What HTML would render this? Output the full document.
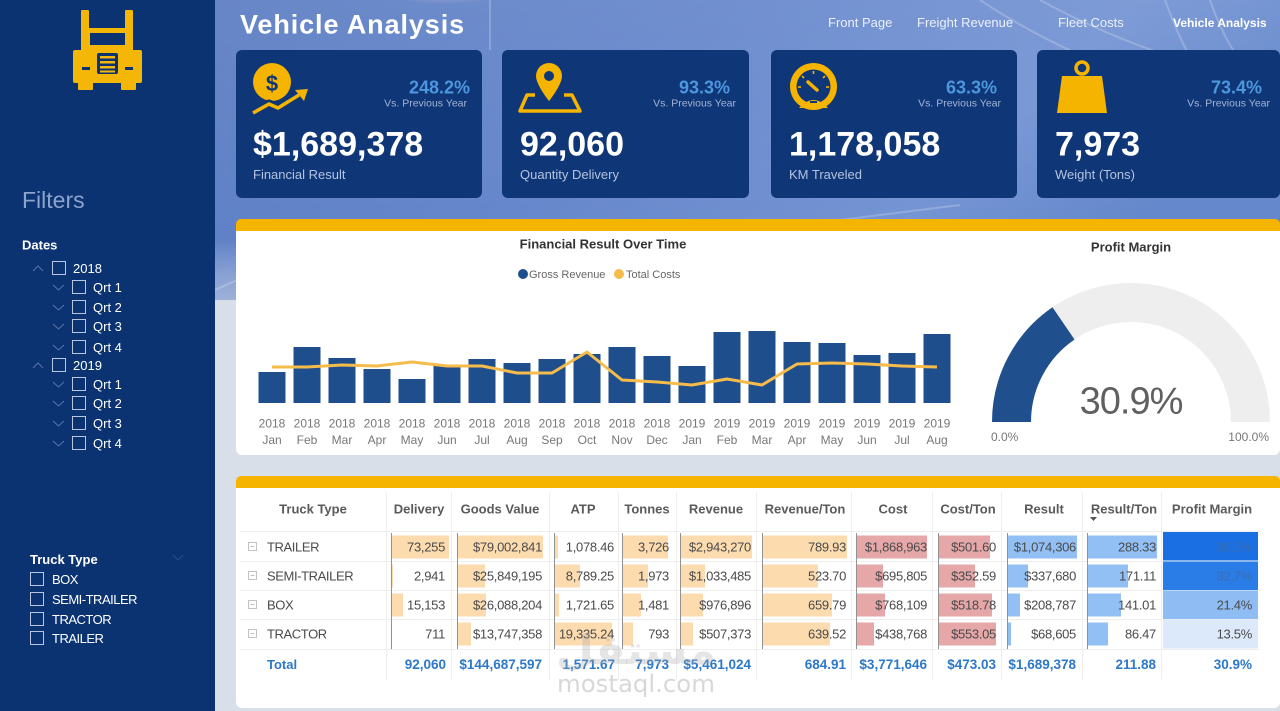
<!DOCTYPE html>
<html><head><meta charset="utf-8"><style>
*{margin:0;padding:0;box-sizing:border-box}
html,body{width:1280px;height:711px;overflow:hidden;background:#d8dfe8}
svg{position:absolute;left:0;top:0}
</style></head><body>
<svg width="1280" height="711" viewBox="0 0 1280 711" xmlns="http://www.w3.org/2000/svg" font-family="Liberation Sans, Arial, sans-serif">
<defs>
<linearGradient id="hg" x1="0" y1="0" x2="1" y2="0.3">
<stop offset="0" stop-color="#5a7cc2"/><stop offset="0.45" stop-color="#6586cb"/><stop offset="0.8" stop-color="#7393d3"/><stop offset="1" stop-color="#6387cb"/>
</linearGradient>
<linearGradient id="hv" x1="0" y1="0" x2="0" y2="1">
<stop offset="0" stop-color="#ffffff" stop-opacity="0.08"/><stop offset="0.8" stop-color="#ffffff" stop-opacity="0"/><stop offset="1" stop-color="#d8dfe8" stop-opacity="0.5"/>
</linearGradient>
<radialGradient id="glow" cx="0.5" cy="0" r="0.6"><stop offset="0" stop-color="#f6d6e6" stop-opacity="0.85"/><stop offset="1" stop-color="#f6d6e6" stop-opacity="0"/></radialGradient>
</defs>
<rect width="1280" height="711" fill="#d8dfe8"/>
<rect x="215" y="0" width="1065" height="300" fill="url(#hg)"/>
<rect x="215" y="0" width="1065" height="300" fill="url(#hv)"/>
<ellipse cx="445" cy="0" rx="70" ry="22" fill="url(#glow)"/>
<g stroke="#ffffff" stroke-opacity="0.22" fill="none" stroke-width="2">
<path d="M215 290 L330 238"/>
<path d="M980 0 Q1100 80 1280 120"/>
<path d="M1040 0 Q1150 60 1280 85"/>
<path d="M1165 0 Q1200 100 1280 170"/>
<path d="M1210 0 Q1230 60 1280 110"/>
<line x1="490" y1="0" x2="490" y2="50"/>
<path d="M760 230 L960 205"/>
</g>

<!-- Sidebar -->
<rect x="0" y="0" width="215" height="711" fill="#0b3372"/>
<g fill="#f4b708">
<rect x="81" y="10" width="8" height="24" rx="1"/>
<rect x="125" y="10" width="8" height="24" rx="1"/>
<rect x="81" y="28" width="52" height="30" rx="2"/>
<rect x="73" y="50" width="69" height="33" rx="2"/>
<rect x="78" y="80" width="15" height="10" rx="1"/>
<rect x="121" y="80" width="15" height="10" rx="1"/>
</g>
<rect x="90" y="33" width="35" height="12" fill="#0b3372"/>
<rect x="97" y="53" width="21" height="21" rx="2" fill="#0b3372"/>
<g fill="#f4b708"><rect x="100" y="56" width="15" height="2.5"/><rect x="100" y="61" width="15" height="2.5"/><rect x="100" y="66" width="15" height="2.5"/><rect x="100" y="70.5" width="15" height="2"/></g>
<rect x="82" y="67" width="8" height="3" fill="#0b3372"/>
<rect x="125" y="67" width="8" height="3" fill="#0b3372"/>

<text x="22" y="208" font-size="23" fill="#8ca3cc">Filters</text>
<text x="22" y="249.5" font-size="13" font-weight="bold" fill="#ffffff">Dates</text>
<g stroke="#5a74a8" stroke-width="1" fill="none">
<polyline points="33,271 38,266 43,271"/>
<polyline points="33,368 38,363 43,368"/>
<polyline points="53,285 58.5,290 64,285"/>
<polyline points="53,305 58.5,310 64,305"/>
<polyline points="53,324 58.5,329 64,324"/>
<polyline points="53,345 58.5,350 64,345"/>
<polyline points="53,382 58.5,387 64,382"/>
<polyline points="53,401 58.5,406 64,401"/>
<polyline points="53,421 58.5,426 64,421"/>
<polyline points="53,441 58.5,446 64,441"/>
<polyline points="173,555 178,560 183,555" stroke="#2d4d86"/>
</g>
<g stroke="#b9c6de" stroke-width="1" fill="none">
<rect x="52.5" y="261.5" width="13" height="13"/>
<rect x="52.5" y="358.5" width="13" height="13"/>
<rect x="72.5" y="280.5" width="13" height="13"/>
<rect x="72.5" y="300.5" width="13" height="13"/>
<rect x="72.5" y="319.5" width="13" height="13"/>
<rect x="72.5" y="340.5" width="13" height="13"/>
<rect x="72.5" y="377.5" width="13" height="13"/>
<rect x="72.5" y="396.5" width="13" height="13"/>
<rect x="72.5" y="416.5" width="13" height="13"/>
<rect x="72.5" y="436.5" width="13" height="13"/>
<rect x="30.5" y="572.5" width="13" height="13"/>
<rect x="30.5" y="592.5" width="13" height="13"/>
<rect x="30.5" y="612.5" width="13" height="13"/>
<rect x="30.5" y="631.5" width="13" height="13"/>
</g>
<g font-size="13" fill="#ffffff">
<text x="73" y="273">2018</text>
<text x="93" y="292">Qrt 1</text>
<text x="93" y="312">Qrt 2</text>
<text x="93" y="331">Qrt 3</text>
<text x="93" y="352">Qrt 4</text>
<text x="73" y="370">2019</text>
<text x="93" y="389">Qrt 1</text>
<text x="93" y="408">Qrt 2</text>
<text x="93" y="428">Qrt 3</text>
<text x="93" y="448">Qrt 4</text>
</g>
<text x="30" y="564" font-size="13" font-weight="bold" fill="#ffffff">Truck Type</text>
<g font-size="13" fill="#ffffff" letter-spacing="-0.5">
<text x="52" y="584">BOX</text>
<text x="52" y="604">SEMI-TRAILER</text>
<text x="52" y="624">TRACTOR</text>
<text x="52" y="643">TRAILER</text>
</g>

<!-- Header -->
<text x="240" y="33.5" font-size="27" font-weight="bold" fill="#ffffff" letter-spacing="0.9">Vehicle Analysis</text>
<g font-size="13" fill="#eaf0fa">
<text x="828" y="27">Front Page</text>
<text x="917" y="27">Freight Revenue</text>
<text x="1058" y="27">Fleet Costs</text>
</g>
<text x="1173" y="27" font-size="12" font-weight="bold" fill="#ffffff">Vehicle Analysis</text>

<!-- KPI cards -->
<g fill="#0f3677">
<rect x="236" y="50" width="246" height="148" rx="6"/>
<rect x="502" y="50" width="247" height="148" rx="6"/>
<rect x="771" y="50" width="246" height="148" rx="6"/>
<rect x="1037" y="50" width="243" height="148" rx="6"/>
</g>
<!-- icon 1 -->
<circle cx="272" cy="82" r="19" fill="#f4b400"/>
<text x="272" y="91" font-size="22" font-weight="bold" fill="#0f3677" text-anchor="middle">$</text>
<polyline points="253,113 269,104 278,108 298,96" stroke="#0f3677" stroke-width="9" fill="none" stroke-linejoin="round"/>
<polyline points="253,113 269,104 278,108 299,95" stroke="#f4b400" stroke-width="3.5" fill="none" stroke-linejoin="round"/>
<polygon points="295,90 308,89 304,101" fill="#f4b400"/>
<!-- icon 2 -->
<path d="M549 63 a13 13 0 0 1 13 13 c0 9 -13 25 -13 25 c0 0 -13 -16 -13 -25 a13 13 0 0 1 13 -13 z" fill="#f4b400"/>
<circle cx="549" cy="76" r="5" fill="#0f3677"/>
<path d="M535 95 L527 95 L520 111 L580 111 L572 95 L564 95" stroke="#f4b400" stroke-width="3.5" fill="none" stroke-linejoin="round"/>
<!-- icon 3 -->
<circle cx="813.5" cy="86.5" r="23.5" fill="#f4b400"/>
<circle cx="813.5" cy="86.5" r="17" fill="#0f3677"/>
<g stroke="#f4b400" stroke-width="1.6"><line x1="813.5" y1="71" x2="813.5" y2="74"/><line x1="802" y1="76" x2="804" y2="78"/><line x1="825" y1="76" x2="823" y2="78"/><line x1="798" y1="87" x2="801" y2="87"/><line x1="829" y1="87" x2="826" y2="87"/></g>
<line x1="817" y1="90" x2="808" y2="82" stroke="#f4b400" stroke-width="3.5" stroke-linecap="round"/>
<path d="M799 108 Q813.5 92 828 108 Z" fill="#f4b400"/>
<rect x="810" y="101" width="7" height="2" fill="#0f3677"/>
<!-- icon 4 -->
<circle cx="1082" cy="68" r="6" stroke="#f4b400" stroke-width="3.5" fill="none"/>
<polygon points="1062,76 1102,76 1107,113 1057,113" fill="#f4b400"/>

<g font-size="18" font-weight="bold" fill="#4d97de" text-anchor="end">
<text x="470" y="93.5">248.2%</text>
<text x="730" y="93.5">93.3%</text>
<text x="997" y="93.5">63.3%</text>
<text x="1262" y="93.5">73.4%</text>
</g>
<g font-size="10.5" fill="#a3b5d6" text-anchor="end">
<text x="467" y="106.5">Vs. Previous Year</text>
<text x="736" y="106.5">Vs. Previous Year</text>
<text x="1001" y="106.5">Vs. Previous Year</text>
<text x="1270" y="106.5">Vs. Previous Year</text>
</g>
<g font-size="34" font-weight="bold" fill="#ffffff">
<text x="253" y="155.5">$1,689,378</text>
<text x="520" y="155.5">92,060</text>
<text x="789" y="155.5">1,178,058</text>
<text x="1055" y="155.5">7,973</text>
</g>
<g font-size="13" fill="#b4c3df">
<text x="253" y="179">Financial Result</text>
<text x="520" y="179">Quantity Delivery</text>
<text x="789" y="179">KM Traveled</text>
<text x="1055" y="179">Weight (Tons)</text>
</g>

<!-- Chart panel -->
<rect x="236" y="220" width="1044" height="235" rx="6" fill="#ffffff"/>
<rect x="236" y="219" width="1044" height="12" rx="5" fill="#f4b400"/>
<rect x="236" y="225" width="1044" height="6" fill="#f4b400"/>
<text x="603" y="248.7" font-size="13" font-weight="bold" fill="#333" text-anchor="middle">Financial Result Over Time</text>
<circle cx="523" cy="274" r="5" fill="#1f4e8c"/>
<text x="529" y="278" font-size="11" fill="#666">Gross Revenue</text>
<circle cx="619" cy="274" r="5" fill="#f5bc4c"/>
<text x="626" y="278" font-size="11" fill="#666">Total Costs</text>
<g fill="#1f4e8c">
<rect x="258.5" y="372" width="27" height="31"/>
<rect x="293.5" y="347" width="27" height="56"/>
<rect x="328.5" y="358" width="27" height="45"/>
<rect x="363.5" y="369" width="27" height="34"/>
<rect x="398.5" y="379" width="27" height="24"/>
<rect x="433.5" y="366" width="27" height="37"/>
<rect x="468.5" y="359" width="27" height="44"/>
<rect x="503.5" y="363" width="27" height="40"/>
<rect x="538.5" y="359" width="27" height="44"/>
<rect x="573.5" y="354" width="27" height="49"/>
<rect x="608.5" y="347" width="27" height="56"/>
<rect x="643.5" y="356" width="27" height="47"/>
<rect x="678.5" y="366" width="27" height="37"/>
<rect x="713.5" y="332" width="27" height="71"/>
<rect x="748.5" y="331" width="27" height="72"/>
<rect x="783.5" y="342" width="27" height="61"/>
<rect x="818.5" y="343" width="27" height="60"/>
<rect x="853.5" y="355" width="27" height="48"/>
<rect x="888.5" y="353" width="27" height="50"/>
<rect x="923.5" y="334" width="27" height="69"/>
</g>
<polyline points="272,367 307,367 342,365 377,366 412,362 447,366 482,366 517,373 552,373 587,352 622,380 657,382 692,385 727,379 762,385 797,364 832,363 867,364 902,366 937,367" fill="none" stroke="#f5bc4c" stroke-width="3" stroke-linejoin="round"/>
<g font-size="12" fill="#777" text-anchor="middle">
<text x="272" y="427.5">2018</text><text x="307" y="427.5">2018</text><text x="342" y="427.5">2018</text><text x="377" y="427.5">2018</text><text x="412" y="427.5">2018</text><text x="447" y="427.5">2018</text><text x="482" y="427.5">2018</text><text x="517" y="427.5">2018</text><text x="552" y="427.5">2018</text><text x="587" y="427.5">2018</text><text x="622" y="427.5">2018</text><text x="657" y="427.5">2018</text><text x="692" y="427.5">2019</text><text x="727" y="427.5">2019</text><text x="762" y="427.5">2019</text><text x="797" y="427.5">2019</text><text x="832" y="427.5">2019</text><text x="867" y="427.5">2019</text><text x="902" y="427.5">2019</text><text x="937" y="427.5">2019</text>
<text x="272" y="444">Jan</text><text x="307" y="444">Feb</text><text x="342" y="444">Mar</text><text x="377" y="444">Apr</text><text x="412" y="444">May</text><text x="447" y="444">Jun</text><text x="482" y="444">Jul</text><text x="517" y="444">Aug</text><text x="552" y="444">Sep</text><text x="587" y="444">Oct</text><text x="622" y="444">Nov</text><text x="657" y="444">Dec</text><text x="692" y="444">Jan</text><text x="727" y="444">Feb</text><text x="762" y="444">Mar</text><text x="797" y="444">Apr</text><text x="832" y="444">May</text><text x="867" y="444">Jun</text><text x="902" y="444">Jul</text><text x="937" y="444">Aug</text>
</g>

<!-- Gauge -->
<text x="1131" y="251.7" font-size="13" font-weight="bold" fill="#333" text-anchor="middle">Profit Margin</text>
<path d="M 1011.5 422 A 119.5 119.5 0 0 1 1250.5 422" fill="none" stroke="#eeeeee" stroke-width="39"/>
<path d="M 1011.5 422 A 119.5 119.5 0 0 1 1063.5 323.4" fill="none" stroke="#204f8d" stroke-width="39"/>
<text x="1131" y="413.5" font-size="38" fill="#606060" text-anchor="middle" letter-spacing="-1">30.9%</text>
<text x="991" y="441" font-size="12" fill="#777">0.0%</text>
<text x="1269" y="441" font-size="12" fill="#777" text-anchor="end">100.0%</text>

<!-- Table panel -->
<rect x="236" y="477" width="1044" height="231" rx="6" fill="#ffffff"/>
<rect x="236" y="476" width="1044" height="12" rx="5" fill="#f4b400"/>
<rect x="236" y="482" width="1044" height="6" fill="#f4b400"/>

<g stroke="#eeeeee" stroke-width="1">
<line x1="386.5" y1="492" x2="386.5" y2="680"/><line x1="451.5" y1="492" x2="451.5" y2="680"/><line x1="549.5" y1="492" x2="549.5" y2="680"/><line x1="618.5" y1="492" x2="618.5" y2="680"/><line x1="676.5" y1="492" x2="676.5" y2="680"/><line x1="756.5" y1="492" x2="756.5" y2="680"/><line x1="851.5" y1="492" x2="851.5" y2="680"/><line x1="932.5" y1="492" x2="932.5" y2="680"/><line x1="1001.5" y1="492" x2="1001.5" y2="680"/><line x1="1082.5" y1="492" x2="1082.5" y2="680"/><line x1="1161.5" y1="492" x2="1161.5" y2="680"/>
<line x1="240" y1="531.5" x2="1260" y2="531.5"/><line x1="240" y1="561.5" x2="1260" y2="561.5"/><line x1="240" y1="590.5" x2="1260" y2="590.5"/><line x1="240" y1="619.5" x2="1260" y2="619.5"/><line x1="240" y1="649.5" x2="1260" y2="649.5"/>
</g>

<!-- data bars -->
<g fill="#fcdcaf">
<rect x="392" y="535.5" width="57" height="23"/><rect x="392" y="564.5" width="1" height="23"/><rect x="392" y="593.5" width="11" height="23"/>
<rect x="458" y="535.5" width="85" height="23"/><rect x="458" y="564.5" width="27" height="23"/><rect x="458" y="593.5" width="28" height="23"/><rect x="458" y="622.5" width="13" height="23"/>
<rect x="555" y="535.5" width="3" height="23"/><rect x="555" y="564.5" width="25" height="23"/><rect x="555" y="593.5" width="4" height="23"/><rect x="555" y="622.5" width="57" height="23"/>
<rect x="623" y="535.5" width="45" height="23"/><rect x="623" y="564.5" width="25" height="23"/><rect x="623" y="593.5" width="18" height="23"/><rect x="623" y="622.5" width="10" height="23"/>
<rect x="681" y="535.5" width="71" height="23"/><rect x="681" y="564.5" width="24" height="23"/><rect x="681" y="593.5" width="22" height="23"/><rect x="681" y="622.5" width="12" height="23"/>
<rect x="763" y="535.5" width="84" height="23"/><rect x="763" y="564.5" width="55" height="23"/><rect x="763" y="593.5" width="69" height="23"/><rect x="763" y="622.5" width="67" height="23"/>
</g>
<g fill="#e6a7a8">
<rect x="857" y="535.5" width="70" height="23"/><rect x="857" y="564.5" width="26" height="23"/><rect x="857" y="593.5" width="28" height="23"/><rect x="857" y="622.5" width="17" height="23"/>
<rect x="939" y="535.5" width="51" height="23"/><rect x="939" y="564.5" width="36" height="23"/><rect x="939" y="593.5" width="53" height="23"/><rect x="939" y="622.5" width="57" height="23"/>
</g>
<g fill="#92c0f4">
<rect x="1008" y="535.5" width="69" height="23"/><rect x="1008" y="564.5" width="20" height="23"/><rect x="1008" y="593.5" width="12" height="23"/><rect x="1008" y="622.5" width="3" height="23"/>
<rect x="1088" y="535.5" width="69" height="23"/><rect x="1088" y="564.5" width="40" height="23"/><rect x="1088" y="593.5" width="33" height="23"/><rect x="1088" y="622.5" width="20" height="23"/>
</g>
<g stroke="#777" stroke-width="1" stroke-opacity="0.8">
<line x1="391.5" y1="533" x2="391.5" y2="649"/><line x1="457.5" y1="533" x2="457.5" y2="649"/><line x1="554.5" y1="533" x2="554.5" y2="649"/><line x1="622.5" y1="533" x2="622.5" y2="649"/><line x1="680.5" y1="533" x2="680.5" y2="649"/><line x1="762.5" y1="533" x2="762.5" y2="649"/><line x1="856.5" y1="533" x2="856.5" y2="649"/><line x1="938.5" y1="533" x2="938.5" y2="649"/><line x1="1007.5" y1="533" x2="1007.5" y2="649"/><line x1="1087.5" y1="533" x2="1087.5" y2="649"/>
</g>
<!-- profit margin cells -->
<rect x="1163" y="532" width="95" height="28.5" fill="#1a70e2"/>
<rect x="1163" y="561.5" width="95" height="28.5" fill="#2a7de6"/>
<rect x="1163" y="590.5" width="95" height="28.5" fill="#8fbdf3"/>
<rect x="1163" y="619.5" width="95" height="29" fill="#dce9fa"/>

<!-- header -->
<g font-size="13" font-weight="bold" fill="#5a5a5a" text-anchor="middle">
<text x="313" y="513.7">Truck Type</text>
<text x="419" y="513.7">Delivery</text>
<text x="500" y="513.7">Goods Value</text>
<text x="583" y="513.7">ATP</text>
<text x="647" y="513.7">Tonnes</text>
<text x="716" y="513.7">Revenue</text>
<text x="805" y="513.7">Revenue/Ton</text>
<text x="893" y="513.7">Cost</text>
<text x="968" y="513.7">Cost/Ton</text>
<text x="1044" y="513.7">Result</text>
<text x="1124" y="513.7">Result/Ton</text>
<text x="1212" y="513.7">Profit Margin</text>
</g>
<polygon points="1090,517 1097,517 1093.5,521" fill="#555"/>

<!-- expand icons -->
<g stroke="#c2c2c2" fill="none" stroke-width="1">
<rect x="248.5" y="542.5" width="8" height="8"/><line x1="250.5" y1="546.5" x2="254.5" y2="546.5"/>
<rect x="248.5" y="571.5" width="8" height="8"/><line x1="250.5" y1="575.5" x2="254.5" y2="575.5"/>
<rect x="248.5" y="600.5" width="8" height="8"/><line x1="250.5" y1="604.5" x2="254.5" y2="604.5"/>
<rect x="248.5" y="629.5" width="8" height="8"/><line x1="250.5" y1="633.5" x2="254.5" y2="633.5"/>
</g>
<g font-size="13" fill="#4a4a4a" letter-spacing="-0.4">
<text x="267" y="551.7">TRAILER</text>
<text x="267" y="580.7">SEMI-TRAILER</text>
<text x="267" y="609.7">BOX</text>
<text x="267" y="638.7">TRACTOR</text>
</g>
<g font-size="13" fill="#4a4a4a" text-anchor="end" letter-spacing="-0.3">
<text x="445" y="551.7">73,255</text><text x="542" y="551.7">$79,002,841</text><text x="614" y="551.7">1,078.46</text><text x="669" y="551.7">3,726</text><text x="751" y="551.7">$2,943,270</text><text x="846" y="551.7">789.93</text><text x="927" y="551.7">$1,868,963</text><text x="996" y="551.7">$501.60</text><text x="1076" y="551.7">$1,074,306</text><text x="1156" y="551.7">288.33</text>
<text x="445" y="580.7">2,941</text><text x="542" y="580.7">$25,849,195</text><text x="614" y="580.7">8,789.25</text><text x="669" y="580.7">1,973</text><text x="751" y="580.7">$1,033,485</text><text x="846" y="580.7">523.70</text><text x="927" y="580.7">$695,805</text><text x="996" y="580.7">$352.59</text><text x="1076" y="580.7">$337,680</text><text x="1156" y="580.7">171.11</text>
<text x="445" y="609.7">15,153</text><text x="542" y="609.7">$26,088,204</text><text x="614" y="609.7">1,721.65</text><text x="669" y="609.7">1,481</text><text x="751" y="609.7">$976,896</text><text x="846" y="609.7">659.79</text><text x="927" y="609.7">$768,109</text><text x="996" y="609.7">$518.78</text><text x="1076" y="609.7">$208,787</text><text x="1156" y="609.7">141.01</text><text x="1252" y="609.7">21.4%</text>
<text x="445" y="638.7">711</text><text x="542" y="638.7">$13,747,358</text><text x="614" y="638.7">19,335.24</text><text x="669" y="638.7">793</text><text x="751" y="638.7">$507,373</text><text x="846" y="638.7">639.52</text><text x="927" y="638.7">$438,768</text><text x="996" y="638.7">$553.05</text><text x="1076" y="638.7">$68,605</text><text x="1156" y="638.7">86.47</text><text x="1252" y="638.7">13.5%</text>
</g>
<g font-size="13" fill="#3b6cb0" text-anchor="end" letter-spacing="-0.3">
<text x="1252" y="551.7">36.5%</text><text x="1252" y="580.7">32.7%</text>
</g>
<text x="267" y="668.8" font-size="13" font-weight="bold" fill="#2c78c9">Total</text>
<g font-size="13.5" font-weight="bold" fill="#2c78c9" text-anchor="end">
<text x="446" y="668.8">92,060</text><text x="542" y="668.8">$144,687,597</text><text x="615" y="668.8">1,571.67</text><text x="669" y="668.8">7,973</text><text x="751" y="668.8">$5,461,024</text><text x="846" y="668.8">684.91</text><text x="927" y="668.8">$3,771,646</text><text x="996" y="668.8">$473.03</text><text x="1076" y="668.8">$1,689,378</text><text x="1156" y="668.8">211.88</text><text x="1252" y="668.8">30.9%</text>
</g>

<!-- watermark -->
<text x="636" y="664" font-family="DejaVu Sans, sans-serif" font-size="40" font-weight="bold" fill="#a8a8a8" fill-opacity="0.3" text-anchor="middle" textLength="160" lengthAdjust="spacingAndGlyphs">مستقل</text>
<text x="636" y="692" font-family="DejaVu Sans, sans-serif" font-size="24" fill="#c8c8c8" fill-opacity="0.7" text-anchor="middle" textLength="158" lengthAdjust="spacingAndGlyphs">mostaql.com</text>
</svg>
</body></html>
